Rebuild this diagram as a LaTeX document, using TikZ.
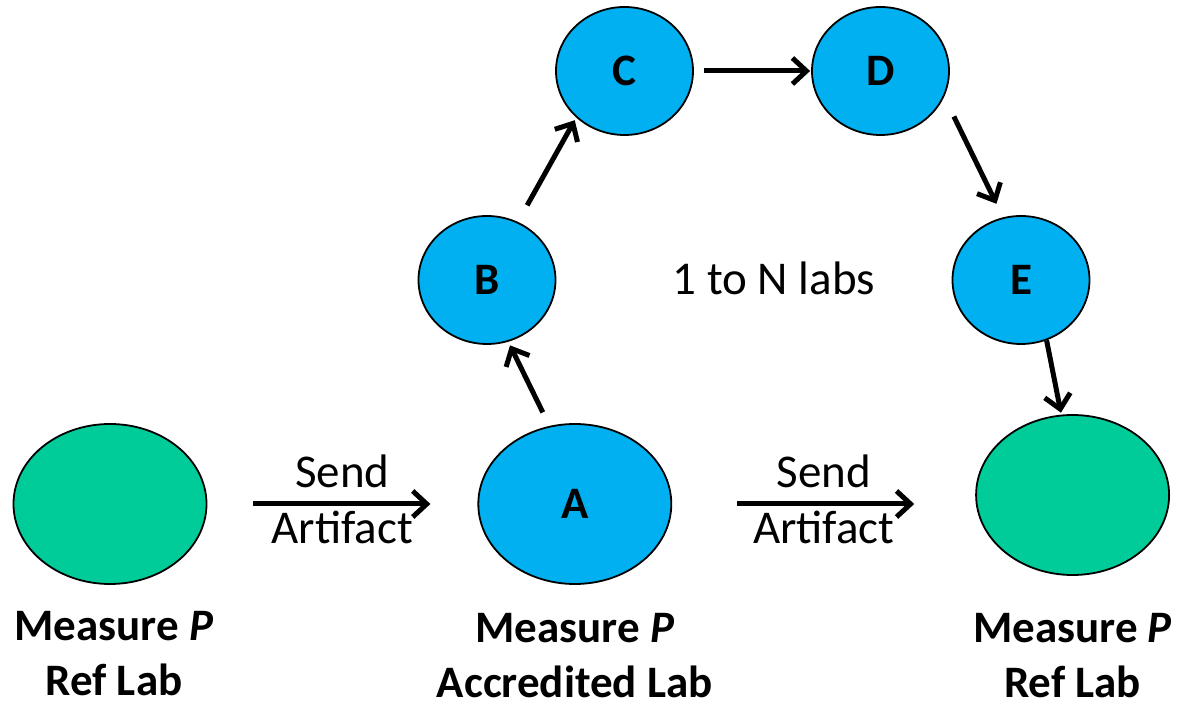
\documentclass[tikz,border=0pt]{standalone}
\usepackage{fontspec}
\setmainfont{Carlito}
\usepackage{xcolor}
\usepackage{tikz}
\usetikzlibrary{shapes,arrows}
\usetikzlibrary{positioning}
\usetikzlibrary{arrows.meta}
\definecolor{labblue}{HTML}{00B0F0}
\definecolor{labgreen}{HTML}{00CC99}
\tikzstyle{line} = [draw, line width=5pt, -{Straight Barb[length=14pt,width=26pt]}]

\begin{document}
\begin{tikzpicture}[x=1pt, y=1pt,
      font=\fontsize{47}{55}\selectfont,
      lab/.style={draw,
      ellipse,
      line width=1.8pt,
      inner sep=0pt,
      minimum width=193pt,
      minimum height=160pt},
      ring/.style={lab, fill=labblue,
      minimum width=137pt, minimum height=128pt,
      font=\fontsize{45}{55}\selectfont\bfseries},
      caption/.style={align=center, inner sep=0pt,
      font=\fontsize{45}{55}\selectfont\bfseries}]
    \useasboundingbox (0,0) rectangle (1181,707);
    \node [lab, fill=labgreen] (S) at (110,203) {};
    \node [ring, minimum width=193pt, minimum height=160pt, right=270pt of S] (A) {A};
    \node [lab, fill=labgreen, right=303pt of A, yshift=9pt] (R) {};
    \node [ring] (B) at (487,427) {B};
    \node [ring] (C) at (624.5,636) {C};
    \node [ring] (D) at (880.5,636) {D};
    \node [ring] (E) at (1021,427) {E};
    \node [anchor=base] (N) at (774,412) {1 to N labs};
    %% captions
    \node [caption, below=26pt of S, xshift=4pt] (capS) {Measure \textit{P}\\Ref Lab};
    \node [caption, below=28pt of A] (capA) {Measure \textit{P}\\Accredited Lab};
    \node [caption, below=37pt of R] (capR) {Measure \textit{P}\\Ref Lab};
    %% artifact
    \path [line, shorten <=46pt, shorten >=47pt] (S) to node [midway, above, inner sep=14pt] (send1) {Send} node [midway, below, inner sep=5pt] (art1) {Artifact} (A);
    \path [line, shorten <=65pt, shorten >=61pt] (A) to node [midway, above, inner sep=14pt] (send2) {Send} node [midway, below, inner sep=5pt] (art2) {Artifact} (A -| R.west);
    \path [line, shorten <=15pt, shorten >=4pt] (A.108) -- (B.-71);
    \path [line, shorten <=19pt, shorten >=3pt] (B.62) -- (C.-136);
    \path [line, shorten <=10pt, shorten >=1pt] (C) -- (D);
    \path [line, shorten <=22pt, shorten >=15pt] (D.-22) -- (E.106);
    \path [line, shorten >=2pt] (E.-67) -- (R.98);
  \end{tikzpicture}
\end{document}
